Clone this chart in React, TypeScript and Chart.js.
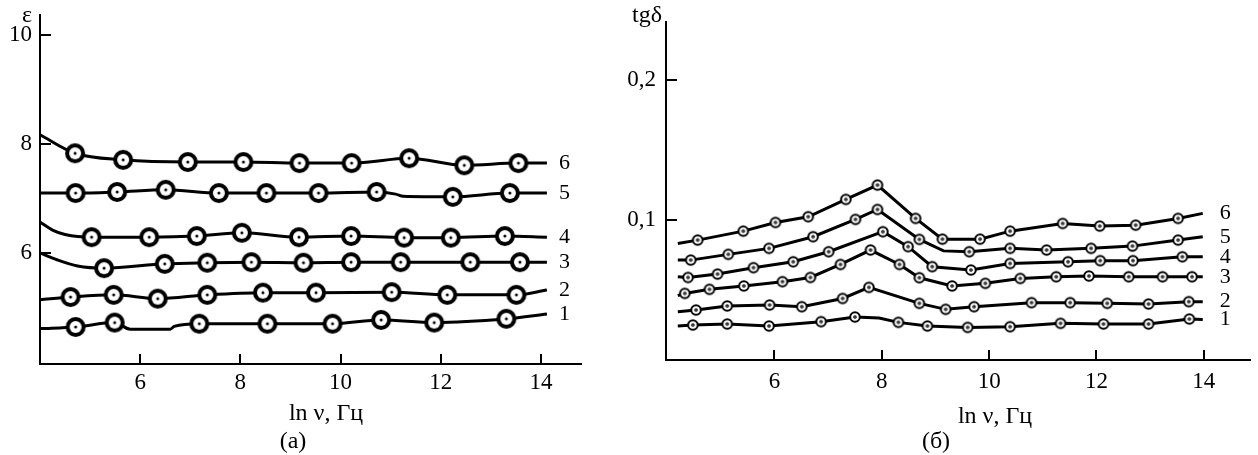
import React, { useEffect, useRef } from 'react';
import { Chart, registerables } from 'chart.js';

Chart.register(...registerables);

type Pt = [number, number];

// ---------- (а) ε vs ln ν ----------
const epsXTicks = [6, 8, 10, 12, 14];
const epsYTicks = [6, 8, 10];
const epsNames = ['1', '2', '3', '4', '5', '6'];

const eps1: Pt[] = [[4.71, 4.64], [5.49, 4.72], [7.18, 4.7], [8.54, 4.7], [9.84, 4.7], [10.81, 4.77], [11.87, 4.72], [13.31, 4.79]];
const eps1Bare: Pt[] = [[4.0, 4.61], [5.8, 4.6], [6.6, 4.6], [6.68, 4.65], [14.12, 4.88]];
const eps2: Pt[] = [[4.61, 5.19], [5.47, 5.23], [6.35, 5.16], [7.34, 5.23], [8.45, 5.27], [9.51, 5.27], [11.02, 5.28], [12.13, 5.23], [13.51, 5.23]];
const eps2Bare: Pt[] = [[4.0, 5.14], [14.12, 5.32]];
const eps3: Pt[] = [[5.28, 5.72], [6.49, 5.8], [7.34, 5.82], [8.22, 5.83], [9.26, 5.82], [10.21, 5.83], [11.2, 5.83], [12.59, 5.83], [13.58, 5.83]];
const eps3Bare: Pt[] = [[4.0, 6.0], [4.35, 5.87], [4.75, 5.76], [14.12, 5.83]];
const eps4: Pt[] = [[5.03, 6.29], [6.18, 6.29], [7.13, 6.31], [8.03, 6.37], [9.17, 6.29], [10.21, 6.31], [11.27, 6.28], [12.2, 6.28], [13.28, 6.31]];
const eps4Bare: Pt[] = [[4.0, 6.57], [4.25, 6.42], [4.5, 6.34], [14.12, 6.29]];
const eps5: Pt[] = [[4.71, 7.1], [5.54, 7.12], [6.51, 7.16], [7.57, 7.1], [8.52, 7.1], [9.56, 7.1], [10.72, 7.12], [12.24, 7.03], [13.38, 7.1]];
const eps5Bare: Pt[] = [[4.0, 7.1], [11.1, 7.08], [11.25, 7.04], [14.12, 7.1]];
const eps6: Pt[] = [[4.7, 7.83], [5.66, 7.71], [6.95, 7.67], [8.06, 7.67], [9.18, 7.65], [10.22, 7.65], [11.37, 7.74], [12.47, 7.61], [13.55, 7.65]];
const eps6Bare: Pt[] = [[4.0, 8.17], [14.12, 7.65]];

// ---------- (б) tgδ vs ln ν ----------
const tgXTicks = [6, 8, 10, 12, 14];
const tgYTicks = [0.1, 0.2];
const tgNames = ['1', '2', '3', '4', '5', '6'];

const tg1: Pt[] = [[4.48, 0.025], [5.12, 0.0257], [5.9, 0.0243], [6.87, 0.0274], [7.5, 0.0307], [8.31, 0.0269], [8.85, 0.0243], [9.6, 0.0233], [10.39, 0.0238], [11.33, 0.0262], [12.13, 0.0257], [12.97, 0.0257], [13.73, 0.0293]];
const tg1Bare: Pt[] = [[4.2, 0.0243], [7.95, 0.03], [13.98, 0.029]];
const tg2: Pt[] = [[4.54, 0.0357], [5.12, 0.0386], [5.91, 0.0393], [6.51, 0.0381], [7.27, 0.044], [7.76, 0.0519], [8.7, 0.0405], [9.19, 0.0362], [9.72, 0.0381], [10.79, 0.041], [11.51, 0.041], [12.2, 0.0405], [12.97, 0.04], [13.72, 0.0417]];
const tg2Bare: Pt[] = [[4.2, 0.0345], [13.98, 0.0417]];
const tg3: Pt[] = [[4.33, 0.0476], [4.79, 0.0505], [5.43, 0.0529], [6.15, 0.056], [6.67, 0.059], [7.23, 0.0683], [7.79, 0.0786], [8.33, 0.0683], [8.7, 0.0588], [9.31, 0.0529], [9.93, 0.0548], [10.58, 0.0583], [11.25, 0.0595], [11.86, 0.06], [12.6, 0.0595], [13.23, 0.0595], [13.78, 0.0595]];
const tg3Bare: Pt[] = [[4.2, 0.046], [13.98, 0.0595]];
const tg4: Pt[] = [[4.39, 0.059], [4.94, 0.0614], [5.61, 0.066], [6.35, 0.0702], [7.01, 0.0774], [8.02, 0.0917], [8.49, 0.081], [8.94, 0.0667], [9.66, 0.0643], [10.39, 0.069], [11.47, 0.0702], [12.07, 0.071], [12.68, 0.071], [13.6, 0.0738]];
const tg4Bare: Pt[] = [[4.2, 0.0595], [13.98, 0.0738]];
const tg5: Pt[] = [[4.44, 0.0714], [5.14, 0.0755], [5.9, 0.0798], [6.72, 0.0881], [7.51, 0.1005], [7.92, 0.1076], [8.7, 0.0862], [9.63, 0.0774], [10.39, 0.0798], [11.07, 0.0786], [11.9, 0.0798], [12.67, 0.0814], [13.52, 0.0857]];
const tg5Bare: Pt[] = [[4.2, 0.0714], [9.15, 0.078], [13.98, 0.0881]];
const tg6: Pt[] = [[4.57, 0.0857], [5.42, 0.0921], [6.02, 0.0983], [6.63, 0.1024], [7.33, 0.1148], [7.92, 0.125], [8.63, 0.1012], [9.13, 0.0864], [9.83, 0.0864], [10.39, 0.0921], [11.37, 0.0976], [12.06, 0.0957], [12.73, 0.0964], [13.52, 0.1012]];
const tg6Bare: Pt[] = [[4.2, 0.0833], [13.98, 0.1048]];

const FONT = "'Liberation Serif', 'Times New Roman', serif";

function makeMarker(outer: number, inner: number, dot: number, hole: number) {
  const size = Math.ceil(outer * 2) + 2;
  const c = document.createElement('canvas');
  c.width = size;
  c.height = size;
  const g = c.getContext('2d')!;
  const m = size / 2;
  const disc = (r: number, col: string) => {
    g.beginPath();
    g.arc(m, m, r, 0, Math.PI * 2);
    g.fillStyle = col;
    g.fill();
  };
  disc(outer, '#000');
  disc(inner, '#fff');
  disc(dot, '#000');
  if (hole > 0) disc(hole, '#fff');
  return c;
}

type TextItem = [string, number, number, CanvasTextAlign];

interface Spec {
  marks: Pt[][];
  bare: Pt[][];
  names: string[];
  xMin: number; xMax: number; yMin: number; yMax: number;
  xTicks: number[]; yTicks: number[];
  fmt: (v: number) => string;
  yWidth: number; xHeight: number; padTop: number; padRight: number;
  xTickPad: number; yTickPad: number;
  marker: HTMLCanvasElement;
  lineWidth: number;
  labelOffset: number;
  labelSize: number;
  texts: TextItem[];
  monotone: boolean;
}

function buildConfig(s: Spec): any {
  const lines = s.marks.map((mk, i) => {
    const path = [...mk, ...s.bare[i]].sort((a, b) => a[0] - b[0]);
    return {
      label: s.names[i],
      data: path.map(([x, y]) => ({ x, y })),
      showLine: true,
      borderColor: '#000',
      borderWidth: s.lineWidth,
      pointRadius: 0,
      fill: false,
      cubicInterpolationMode: s.monotone ? 'monotone' : 'default',
      tension: 0,
      order: 2,
      clip: false,
      isLine: true,
    };
  });
  const markers = s.marks.map((mk, i) => ({
    label: 'm' + s.names[i],
    data: mk.map(([x, y]) => ({ x, y })),
    showLine: false,
    pointStyle: s.marker,
    pointRadius: s.marker.width / 2,
    order: 1,
    clip: false,
  }));

  const tickFont = { family: FONT, size: 23 };

  const plugin = {
    id: 'decor',
    afterDatasetsDraw(chart: any) {
      const g = chart.ctx;
      g.save();
      g.fillStyle = '#000';
      g.font = `${s.labelSize}px ${FONT}`;
      g.textAlign = 'left';
      g.textBaseline = 'middle';
      chart.data.datasets.forEach((ds: any, i: number) => {
        if (!ds.isLine) return;
        const meta = chart.getDatasetMeta(i);
        const last = meta.data[meta.data.length - 1];
        g.fillText(ds.label, last.x + s.labelOffset, last.y);
      });
      g.restore();
    },
    afterDraw(chart: any) {
      const g = chart.ctx;
      const { left, bottom } = chart.chartArea;
      const xs = chart.scales.x;
      const ys = chart.scales.y;
      g.save();
      g.strokeStyle = '#000';
      g.lineWidth = 2;
      g.beginPath();
      s.xTicks.forEach((v) => {
        const px = Math.round(xs.getPixelForValue(v));
        g.moveTo(px, bottom);
        g.lineTo(px, bottom - 10);
      });
      s.yTicks.forEach((v) => {
        const py = Math.round(ys.getPixelForValue(v));
        g.moveTo(left, py);
        g.lineTo(left + 11, py);
      });
      g.stroke();
      g.fillStyle = '#000';
      g.font = `24px ${FONT}`;
      g.textBaseline = 'middle';
      s.texts.forEach(([t, x, y, al]) => {
        g.textAlign = al;
        g.fillText(t, x, y);
      });
      g.restore();
    },
  };

  return {
    type: 'scatter',
    data: { datasets: [...lines, ...markers] },
    options: {
      animation: false,
      responsive: false,
      layout: { padding: { top: s.padTop, right: s.padRight, left: 0, bottom: 0 } },
      plugins: { legend: { display: false }, tooltip: { enabled: false } },
      scales: {
        x: {
          type: 'linear',
          min: s.xMin,
          max: s.xMax,
          afterBuildTicks: (sc: any) => { sc.ticks = s.xTicks.map((v) => ({ value: v })); },
          afterFit: (sc: any) => { sc.height = s.xHeight; sc.paddingLeft = 0; sc.paddingRight = 0; },
          ticks: { color: '#000', font: tickFont, padding: s.xTickPad, maxRotation: 0, autoSkip: false, callback: (v: number) => String(v) },
          grid: { display: false, drawTicks: false },
          border: { display: true, color: '#000', width: 2 },
        },
        y: {
          type: 'linear',
          min: s.yMin,
          max: s.yMax,
          afterBuildTicks: (sc: any) => { sc.ticks = s.yTicks.map((v) => ({ value: v })); },
          afterFit: (sc: any) => { sc.width = s.yWidth; sc.paddingTop = 0; sc.paddingBottom = 0; },
          ticks: { color: '#000', font: tickFont, padding: s.yTickPad, autoSkip: false, callback: (v: number) => s.fmt(v) },
          grid: { display: false, drawTicks: false },
          border: { display: true, color: '#000', width: 2 },
        },
      },
    },
    plugins: [plugin],
  };
}

export default function App() {
  const leftRef = useRef<HTMLCanvasElement>(null);
  const rightRef = useRef<HTMLCanvasElement>(null);

  useEffect(() => {
    const leftSpec: Spec = {
      marks: [eps1, eps2, eps3, eps4, eps5, eps6],
      bare: [eps1Bare, eps2Bare, eps3Bare, eps4Bare, eps5Bare, eps6Bare],
      names: epsNames,
      xMin: 4, xMax: 14.8, yMin: 3.96, yMax: 10.37,
      xTicks: epsXTicks, yTicks: epsYTicks,
      fmt: (v) => String(v),
      yWidth: 40, xHeight: 91, padTop: 15, padRight: 39,
      xTickPad: 5, yTickPad: 8,
      marker: makeMarker(10, 6, 1.5, 0),
      lineWidth: 3,
      labelOffset: 12,
      labelSize: 22,
      texts: [['ε', 32, 16, 'right'], ['ln ν, Гц', 326, 414, 'center'], ['(а)', 293, 442, 'center']],
      monotone: true,
    };
    const rightSpec: Spec = {
      marks: [tg1, tg2, tg3, tg4, tg5, tg6],
      bare: [tg1Bare, tg2Bare, tg3Bare, tg4Bare, tg5Bare, tg6Bare],
      names: tgNames,
      xMin: 3.98, xMax: 14.86, yMin: 0, yMax: 0.2416,
      xTicks: tgXTicks, yTicks: tgYTicks,
      fmt: (v) => v.toFixed(1).replace('.', ','),
      yWidth: 66, xHeight: 95, padTop: 22, padRight: 0,
      xTickPad: 8, yTickPad: 10,
      marker: makeMarker(5.8, 3.8, 1.8, 0.6),
      lineWidth: 3,
      labelOffset: 17,
      labelSize: 22,
      texts: [['tgδ', 62, 16, 'right'], ['ln ν, Гц', 395, 417, 'center'], ['(б)', 336, 442, 'center']],
      monotone: false,
    };
    const a = new Chart(leftRef.current!, buildConfig(leftSpec));
    const b = new Chart(rightRef.current!, buildConfig(rightSpec));
    return () => { a.destroy(); b.destroy(); };
  }, []);

  return (
    <div style={{ position: 'absolute', left: 0, top: 0, width: 1258, height: 455, background: '#fff', overflow: 'hidden' }}>
      <canvas ref={leftRef} width={620} height={455} style={{ position: 'absolute', left: 0, top: 0 }} />
      <canvas ref={rightRef} width={658} height={455} style={{ position: 'absolute', left: 600, top: 0 }} />
    </div>
  );
}
